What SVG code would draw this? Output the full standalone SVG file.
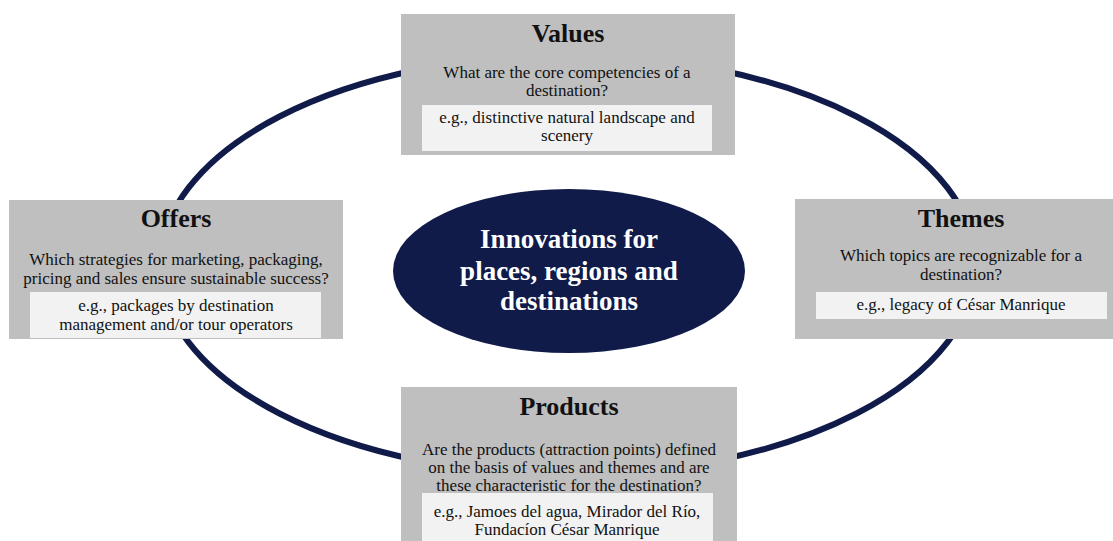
<svg xmlns="http://www.w3.org/2000/svg" width="1113" height="541" viewBox="0 0 1113 541">
<style>
.box{fill:#bfbfbf}
.ex{fill:#f2f2f2}
.t{font-family:"Liberation Serif","Times New Roman",serif;fill:#111;text-anchor:middle}
.title{font-size:26px;font-weight:bold}
.q{font-size:17px}
.c{font-family:"Liberation Serif","Times New Roman",serif;fill:#fff;font-weight:bold;font-size:27px;text-anchor:middle}
</style>
<rect width="1113" height="541" fill="#fff"/>
<g id="connectors">
<ellipse cx="568" cy="265" rx="408" ry="210" fill="none" stroke="#101b4a" stroke-width="6"/>
</g>
<g id="center">
<ellipse cx="569" cy="271" rx="176" ry="82" fill="#101b4a"/>
<text class="c" x="569" y="248">Innovations for</text>
<text class="c" x="569" y="280">places, regions and</text>
<text class="c" x="569" y="310">destinations</text>
</g>
<g id="values">
<rect class="box" x="401" y="14" width="334" height="141"/>
<rect class="ex" x="422" y="105" width="290" height="46"/>
<text class="t title" x="568" y="42">Values</text>
<text class="t q" x="567" y="78">What are the core competencies of a</text>
<text class="t q" x="567" y="96">destination?</text>
<text class="t q" x="567" y="123">e.g., distinctive natural landscape and</text>
<text class="t q" x="567" y="141">scenery</text>
</g>
<g id="offers">
<rect class="box" x="9" y="200" width="334" height="139"/>
<rect class="ex" x="30" y="292" width="291" height="46"/>
<text class="t title" x="176" y="227">Offers</text>
<text class="t q" x="176" y="265">Which strategies for marketing, packaging,</text>
<text class="t q" x="176" y="284">pricing and sales ensure sustainable success?</text>
<text class="t q" x="176" y="311">e.g., packages by destination</text>
<text class="t q" x="176" y="330">management and/or tour operators</text>
</g>
<g id="themes">
<rect class="box" x="795" y="199" width="318" height="140"/>
<rect class="ex" x="816" y="292" width="291" height="27"/>
<text class="t title" x="961" y="227">Themes</text>
<text class="t q" x="961" y="261">Which topics are recognizable for a</text>
<text class="t q" x="961" y="280">destination?</text>
<text class="t q" x="961" y="310">e.g., legacy of César Manrique</text>
</g>
<g id="products">
<rect class="box" x="401" y="387" width="336" height="154"/>
<rect class="ex" x="422" y="493" width="291" height="48"/>
<text class="t title" x="569" y="415">Products</text>
<text class="t q" x="569" y="455">Are the products (attraction points) defined</text>
<text class="t q" x="569" y="473">on the basis of values and themes and are</text>
<text class="t q" x="569" y="491">these characteristic for the destination?</text>
<text class="t q" x="567" y="517">e.g., Jamoes del agua, Mirador del Río,</text>
<text class="t q" x="567" y="535">Fundacíon César Manrique</text>
</g>
</svg>
